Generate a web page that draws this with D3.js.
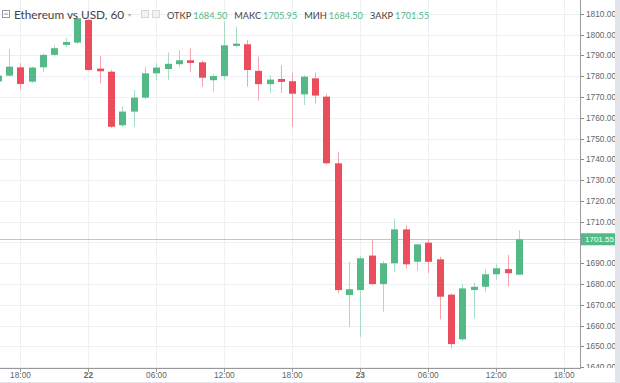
<!DOCTYPE html>
<html>
<head>
<meta charset="utf-8">
<script src="https://cdn.jsdelivr.net/npm/d3@7"></script>
<style>
  html, body { margin: 0; padding: 0; background: #fff; }
  svg { display: block; }
</style>
</head>
<body>
<svg id="chart" width="620" height="383"></svg>
<script>
// hours counted from 22 00:00
const hours = d3.range(-8, 39)
const open  = [1777.5, 1780.3, 1784.3, 1777.4, 1784.3, 1790.3, 1795.1, 1796.2,
  1807.1, 1783.7, 1782.2, 1756.4, 1763.0, 1769.7, 1781.4, 1783.5, 1785.8, 1787.7, 1786.7, 1778.1,
  1780.1, 1794.6, 1795.4, 1782.6, 1776.2, 1778.7, 1777.6, 1771.3, 1779.0, 1770.2, 1738.1, 1674.7,
  1677.1, 1693.7, 1680.0, 1690.0, 1706.3, 1690.7, 1699.9, 1691.9, 1674.9, 1653.4, 1677.1, 1678.7,
  1684.7, 1687.2, 1684.5]
const high  = [1783.0, 1793.0, 1786.3, 1784.6, 1791.0, 1795.1, 1798.3, 1809.0,
  1807.8, 1789.8, 1783.0, 1765.4, 1773.4, 1784.6, 1786.3, 1791.4, 1792.7, 1793.5, 1787.5, 1781.0,
  1806.3, 1803.9, 1797.5, 1789.4, 1780.5, 1785.3, 1781.7, 1780.5, 1781.7, 1771.6, 1743.7, 1690.7,
  1693.5, 1701.5, 1691.0, 1711.6, 1708.4, 1699.5, 1701.5, 1693.2, 1675.5, 1680.0, 1680.6, 1687.1,
  1689.6, 1694.0, 1705.95]
const low   = [1776.0, 1779.8, 1773.4, 1776.8, 1782.2, 1789.5, 1794.0, 1795.5,
  1782.7, 1776.6, 1755.2, 1755.7, 1755.7, 1769.0, 1778.2, 1778.2, 1784.2, 1782.2, 1775.0, 1772.6,
  1778.2, 1794.0, 1775.0, 1768.3, 1772.0, 1772.0, 1755.7, 1766.2, 1767.0, 1737.5, 1675.5, 1659.4,
  1654.6, 1679.5, 1666.7, 1685.9, 1687.5, 1686.5, 1685.2, 1663.0, 1649.0, 1652.5, 1663.5, 1676.3,
  1682.0, 1678.7, 1684.5]
const close = [1780.3, 1784.6, 1776.3, 1784.2, 1790.3, 1793.5, 1796.5, 1807.9,
  1783.0, 1782.4, 1755.7, 1763.0, 1769.7, 1781.4, 1784.2, 1786.0, 1787.7, 1786.4, 1779.3, 1780.1,
  1794.9, 1795.7, 1783.0, 1776.2, 1778.4, 1777.3, 1771.6, 1779.8, 1770.7, 1738.1, 1677.1, 1677.5,
  1692.4, 1680.0, 1690.0, 1706.3, 1689.5, 1699.1, 1690.7, 1673.9, 1651.1, 1677.9, 1678.7, 1684.7,
  1687.6, 1685.2, 1701.55]

const timeTicks  = [-6, 0, 6, 12, 18, 24, 30, 36, 42]
const timeLabels = ['18:00', '22', '06:00', '12:00', '18:00', '23', '06:00', '12:00', '18:00']
const priceTicks = d3.range(1640, 1811, 10)
const legendNames  = ['ОТКР', 'МАКС', 'МИН', 'ЗАКР']
const legendValues = ['1684.50', '1705.95', '1684.50', '1701.55']
const lastPrice = 1701.55

const up = '#53b987', down = '#eb4d5c'
const upWick = '#a9dcc4', downWick = '#f3a6ae'

const plotW = 580, plotH = 368

const candles = hours.map((h, i) => ({h, o: open[i], hi: high[i], lo: low[i], c: close[i]}))

const x = d3.scaleLinear().domain([-7.81, 43.4]).range([0, plotW])
const y = d3.scaleLinear().domain([1639.6, 1816.7]).range([plotH, 0])
const bw = 7
const axisFont = 'Liberation Sans, Arial, sans-serif'

const svg = d3.select('#chart')

svg.append('defs').append('clipPath').attr('id', 'plot')
  .append('rect').attr('width', plotW).attr('height', plotH)
svg.select('defs').append('clipPath').attr('id', 'yaxis')
  .append('rect').attr('x', plotW).attr('width', 40).attr('height', plotH)

// grid
const grid = svg.append('g').attr('clip-path', 'url(#plot)')
grid.selectAll('line.h').data(priceTicks).join('line')
  .attr('x1', 0).attr('x2', plotW)
  .attr('y1', d => Math.round(y(d)) + 0.5).attr('y2', d => Math.round(y(d)) + 0.5)
  .attr('stroke', '#eef0f3')
grid.selectAll('line.v').data(timeTicks).join('line')
  .attr('y1', 0).attr('y2', plotH)
  .attr('x1', d => Math.round(x(d)) + 0.5).attr('x2', d => Math.round(x(d)) + 0.5)
  .attr('stroke', '#eef0f3')

// last price line
grid.append('line')
  .attr('x1', 0).attr('x2', plotW)
  .attr('y1', Math.round(y(lastPrice)) + 0.5).attr('y2', Math.round(y(lastPrice)) + 0.5)
  .attr('stroke', up).attr('stroke-opacity', 0.55)

// candles
const cg = svg.append('g').attr('clip-path', 'url(#plot)')
cg.selectAll('line.wick').data(candles).join('line')
  .attr('x1', d => Math.round(x(d.h)) + 0.5).attr('x2', d => Math.round(x(d.h)) + 0.5)
  .attr('y1', d => y(d.hi)).attr('y2', d => y(d.lo))
  .attr('stroke', d => d.c >= d.o ? upWick : downWick)
cg.selectAll('rect').data(candles).join('rect')
  .attr('x', d => Math.round(x(d.h)) - 3)
  .attr('width', bw)
  .attr('y', d => y(Math.max(d.o, d.c)))
  .attr('height', d => Math.max(1, Math.abs(y(d.o) - y(d.c))))
  .attr('fill', d => d.c >= d.o ? up : down)

// right axis (labels hidden under the price badge are skipped)
const shownTicks = priceTicks.filter(d => Math.abs(y(d) - y(lastPrice)) > 11)
const ya = svg.append('g').attr('clip-path', 'url(#yaxis)')
ya.selectAll('line').data(shownTicks).join('line')
  .attr('x1', plotW).attr('x2', plotW + 4)
  .attr('y1', d => Math.round(y(d)) + 0.5).attr('y2', d => Math.round(y(d)) + 0.5)
  .attr('stroke', '#888')
ya.selectAll('text').data(shownTicks).join('text')
  .attr('x', plotW + 6).attr('y', d => y(d)).attr('dy', '0.35em')
  .attr('font-family', axisFont).attr('font-size', 8.3)
  .attr('fill', '#666')
  .text(d => d.toFixed(2))
svg.append('line')
  .attr('x1', plotW + 0.5).attr('x2', plotW + 0.5).attr('y1', 0).attr('y2', plotH + 1)
  .attr('stroke', '#999')

// last price badge
const yl = y(lastPrice)
svg.append('rect').attr('x', plotW + 1).attr('y', yl - 6).attr('width', 35).attr('height', 12).attr('fill', up)
svg.append('text').attr('x', plotW + 5).attr('y', yl).attr('dy', '0.35em')
  .attr('font-family', axisFont).attr('font-size', 8)
  .attr('fill', '#fff').text(lastPrice.toFixed(2))

// bottom axis
svg.append('line')
  .attr('x1', 0).attr('x2', plotW + 1).attr('y1', plotH + 0.5).attr('y2', plotH + 0.5)
  .attr('stroke', '#999')
const xa = svg.append('g')
xa.selectAll('line').data(timeTicks).join('line')
  .attr('x1', d => Math.round(x(d)) + 0.5).attr('x2', d => Math.round(x(d)) + 0.5)
  .attr('y1', plotH + 1).attr('y2', plotH + 4)
  .attr('stroke', '#999')
xa.selectAll('text').data(timeTicks).join('text')
  .attr('x', d => x(d)).attr('y', 378).attr('text-anchor', 'middle')
  .attr('font-family', axisFont).attr('font-size', 8.3)
  .attr('font-weight', (d, i) => timeLabels[i].length === 2 ? 'bold' : null)
  .attr('fill', '#666')
  .text((d, i) => timeLabels[i])

// frame strips
svg.append('rect').attr('x', 615).attr('y', 0).attr('width', 5).attr('height', 383).attr('fill', '#e3e5ec')
svg.append('rect').attr('x', 0).attr('y', 382).attr('width', 620).attr('height', 1).attr('fill', '#e3e5ec')

// header
const hd = svg.append('g').attr('font-family', 'Lato, sans-serif')
hd.append('rect').attr('x', 2.5).attr('y', 10.5).attr('width', 7).attr('height', 7)
  .attr('fill', 'none').attr('stroke', '#999')
hd.append('line').attr('x1', 4).attr('x2', 8).attr('y1', 14).attr('y2', 14).attr('stroke', '#999')
hd.append('text').attr('x', 14).attr('y', 19).attr('font-size', 11.8).attr('fill', '#444')
  .text('Ethereum vs USD, 60')
hd.append('text').attr('x', 128).attr('y', 17).attr('font-size', 6).attr('fill', '#aaa').text('▾')
;[141, 152].forEach(px => hd.append('rect').attr('x', px + 0.5).attr('y', 10.5).attr('width', 7).attr('height', 7)
  .attr('fill', '#f2f2f2').attr('stroke', '#d8d8d8'))

const lg = hd.append('text').attr('x', 167).attr('y', 18.5).attr('font-size', 9.2)
legendNames.forEach((n, i) => {
  lg.append('tspan').attr('fill', '#444').attr('dx', i ? 7 : 0).text(n)
  lg.append('tspan').attr('fill', up).attr('dx', 2).text(legendValues[i])
})
</script>
</body>
</html>
